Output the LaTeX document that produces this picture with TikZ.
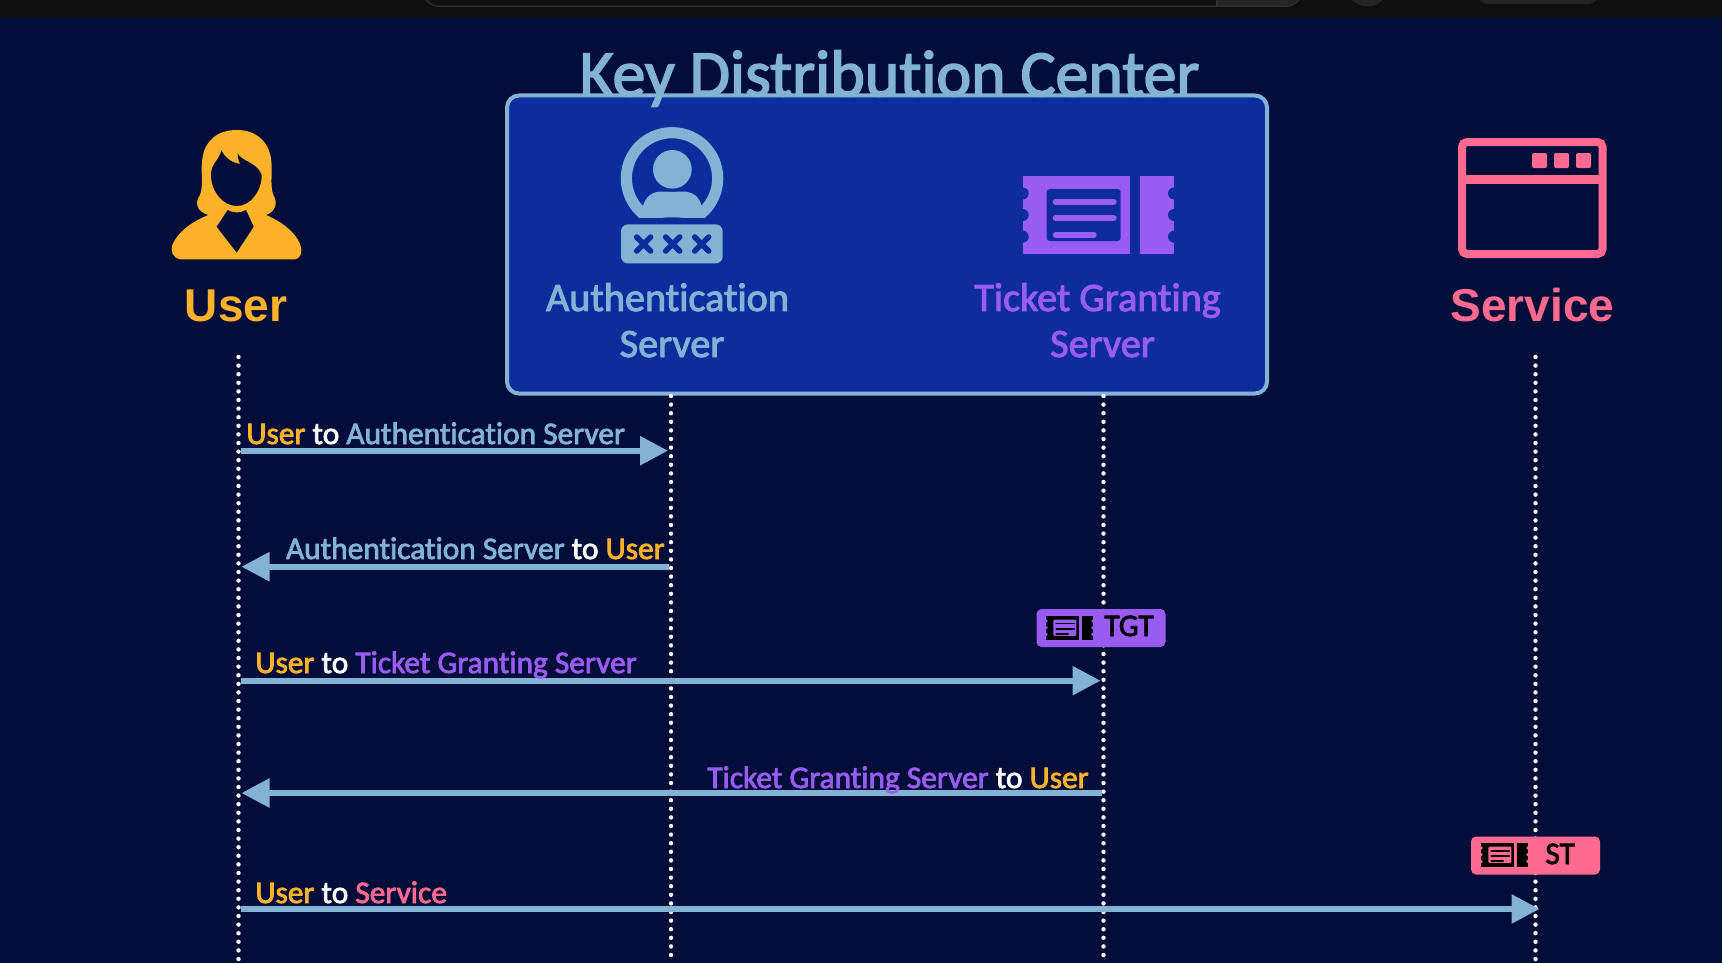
\documentclass[tikz,border=0pt]{standalone}
\usepackage{fontspec}
\setmainfont{Carlito}[Ligatures=NoCommon,RawFeature={embolden=2.4}]
\setsansfont{Liberation Sans}
\usepackage{tikz}
\usetikzlibrary{arrows.meta}
\definecolor{pagenavy}{RGB}{3,13,58}
\definecolor{topblack}{RGB}{15,15,15}
\definecolor{topline}{RGB}{48,48,48}
\definecolor{topgrey}{RGB}{36,36,36}
\definecolor{kdcblue}{RGB}{14,44,156}
\definecolor{skyline}{RGB}{130,178,212}
\definecolor{useramber}{RGB}{253,178,42}
\definecolor{tgspurple}{RGB}{152,92,240}
\definecolor{servicepink}{RGB}{255,106,142}
\newcommand{\ticketicon}[5]{%
  \begin{scope}[shift={(#1,#2)},scale=#3]
    \fill[#4] (0,0) rectangle (107.3,78.6);
    \fill[#4] (117.3,0) rectangle (151.3,78.6);
    \foreach \y in {17.7,39.3,61}{\fill[#5] (0,\y) circle (6); \fill[#5] (151.3,\y) circle (6);}
    \fill[#5,rounded corners=#3*1.5pt] (24,13.3) rectangle (98,65.3);
    \draw[#4,line width=#3*3pt,line cap=round] (33,26) -- (91,26);
    \draw[#4,line width=#3*3pt,line cap=round] (33,42.3) -- (91,42.3);
    \draw[#4,line width=#3*3pt,line cap=round] (33,59) -- (71,59);
  \end{scope}}

\begin{document}
\begin{tikzpicture}[x=.5pt,y=-.5pt,fine/.style={x=.1667pt,y=-.1667pt},
    heading/.style={font=\fontsize{32.9pt}{36pt}\selectfont,text=skyline,inner sep=0pt},
    boxlabel/.style={font=\fontsize{20.1pt}{24pt}\selectfont,inner sep=0pt,anchor=base},
    actorlabel/.style={font=\sffamily\bfseries\fontsize{23pt}{26pt}\selectfont,inner sep=0pt,anchor=base},
    msglabel/.style={font=\fontsize{15.7pt}{18pt}\selectfont,inner sep=0pt},
    ticketlabel/.style={font=\fontsize{15.7pt}{18pt}\selectfont,inner sep=0pt,anchor=base west,text=black},
    badge/.style={rounded corners=2.5pt,minimum width=64.5pt,minimum height=19pt,inner sep=0pt},
    lifeline/.style={white,line width=2.2pt,line cap=round,dash pattern=on 0pt off 4.3pt},
    msgarrow/.style={skyline,line width=2.8pt,shorten >=1.5pt,shorten <=1pt,-{Triangle[length=14pt,width=14pt]}}]
    \useasboundingbox (0,0) rectangle (1722,963);
    \fill[pagenavy] (0,0) rectangle (1722,963);
    \fill[topblack] (0,0) rectangle (1722,18);
    \fill[topgrey,rounded corners=8pt] (1200,-30) rectangle (1302,6.3);
    \fill[topblack] (1100,-30) rectangle (1217,6.3);
    \draw[topline,rounded corners=8pt,line width=.6pt] (423,-30) rectangle (1302,6.3);
    \draw[topline,line width=.6pt] (1217,0) -- (1217,6.3);
    \fill[topgrey] (1367.5,-15) circle (21.5);
    \fill[topgrey,rounded corners=6pt] (1476,-30) rectangle (1600,4);

    \node[draw=skyline,fill=kdcblue,line width=2pt,rounded corners=6pt,minimum width=380pt,minimum height=149pt] (kdc) at (887,244.5) {};
    \node[heading,anchor=base] (title) at (889.5,96) {Key Distribution Center};

    \foreach \name/\x/\top in {user/238.5/357,auth/671/396,tgs/1103.5/396,service/1535.5/357}{
      \coordinate (\name top) at (\x,\top);
      \coordinate (\name end) at (\x,963);
      \foreach \row/\y in {1/450.7,2/566.7,3/680.7,4/793,5/909}{\coordinate (\name\row) at (\x,\y);}
    }
    \foreach \name in {user,auth,tgs,service}{\draw[lifeline] (\name top) -- (\name end);}

    \begin{scope}[shift={(160,120)},fine]
      \fill[useramber] (60,418) -- (405,418) .. controls (425,412) and (428,395) .. (420,372) .. controls (405,335) and (365,305) .. (318,285)
        .. controls (345,275) and (355,250) .. (340,225) .. controls (328,195) and (340,150) .. (332,110) .. controls (322,60) and (285,30) .. (230,30)
        .. controls (170,30) and (135,65) .. (128,110) .. controls (120,150) and (132,195) .. (120,225) .. controls (102,250) and (112,275) .. (145,285)
        .. controls (95,305) and (55,335) .. (38,372) .. controls (30,395) and (38,412) .. (60,418) -- cycle;
      \fill[pagenavy] (185,90) .. controls (190,110) and (215,128) .. (240,132) .. controls (235,122) and (233,110) .. (233,100) .. controls (245,125) and (290,125) .. (305,165)
        .. controls (305,215) and (270,258) .. (230,258) .. controls (190,258) and (153,215) .. (153,165) .. controls (153,130) and (175,125) .. (185,90) -- cycle;
      \fill[pagenavy] (203,270) .. controls (220,280) and (240,280) .. (258,270) -- (281,320) -- (230,398) -- (170,320) -- cycle;
    \end{scope}
    \node[actorlabel,text=useramber] (userlabel) at (236,321) {User};

    \begin{scope}[shift={(610,120)},fine]
      \begin{scope}
        \clip (0,0) rectangle (375,292);
        \draw[skyline,line width=5.6pt] (186,175) circle (137);
        \fill[skyline] (85,292) -- (99,258) .. controls (108,228) and (125,218) .. (145,215) -- (228,215) .. controls (250,218) and (266,228) .. (275,258) -- (287,292) -- cycle;
      \end{scope}
      \fill[kdcblue] (187,148) circle (67);
      \fill[skyline] (187,148) circle (58);
      \fill[skyline,rounded corners=3.5pt] (33,313) rectangle (338,430);
      \foreach \cx in {101,188,275}{\draw[kdcblue,line width=2.8pt,line cap=round] (\cx-21,351) -- (\cx+21,393) (\cx-21,393) -- (\cx+21,351);}
    \end{scope}
    \node[boxlabel,text=skyline] (authname) at (667.5,311) {Authentication};
    \node[boxlabel,text=skyline] (authname2) at (672,357) {Server};

    \ticketicon{1022.7}{175.7}{1}{tgspurple}{kdcblue}
    \node[boxlabel,text=tgspurple] (tgsname) at (1097.5,311) {Ticket Granting};
    \node[boxlabel,text=tgspurple] (tgsname2) at (1102.5,357) {Server};

    \draw[servicepink,line width=4pt,rounded corners=2.5pt] (1462,142) rectangle (1602.5,254);
    \draw[servicepink,line width=4.5pt] (1462,179.5) -- (1602.5,179.5);
    \foreach \x in {1532,1554,1576}{\fill[servicepink,rounded corners=1pt] (\x,153) rectangle (\x+15,168);}
    \node[actorlabel,text=servicepink] (servicelabel) at (1532.5,321) {Service};

    \node[badge,fill=tgspurple] (tgtbadge) at (1101,628) {};
    \ticketicon{1046}{615.5}{.31}{black}{tgspurple}
    \node[ticketlabel] (tgtlabel) at (1104,636) {TGT};
    \node[badge,fill=servicepink] (stbadge) at (1535.5,855.5) {};
    \ticketicon{1481}{842.5}{.31}{black}{servicepink}
    \node[ticketlabel] (stlabel) at (1545,864) {ST};

    \draw[msgarrow] (user1) -- (auth1);
    \draw[msgarrow] (auth2) -- (user2);
    \draw[msgarrow] (user3) -- (tgs3);
    \draw[msgarrow] (tgs4) -- (user4);
    \draw[msgarrow,shorten >=-2pt] (user5) -- (service5);

    \node[msglabel,anchor=base west] (msgone) at (246,444) {\textcolor{useramber}{User} \textcolor{white}{to} \textcolor{skyline}{Authentication Server}};
    \node[msglabel,anchor=base east] (msgtwo) at (665,559) {\textcolor{skyline}{Authentication Server} \textcolor{white}{to} \textcolor{useramber}{User}};
    \node[msglabel,anchor=base west] (msgthree) at (255,673) {\textcolor{useramber}{User} \textcolor{white}{to} \textcolor{tgspurple}{Ticket Granting Server}};
    \node[msglabel,anchor=base east] (msgfour) at (1089,788) {\textcolor{tgspurple}{Ticket Granting Server} \textcolor{white}{to} \textcolor{useramber}{User}};
    \node[msglabel,anchor=base west] (msgfive) at (255,903) {\textcolor{useramber}{User} \textcolor{white}{to} \textcolor{servicepink}{Service}};
  \end{tikzpicture}
\end{document}
